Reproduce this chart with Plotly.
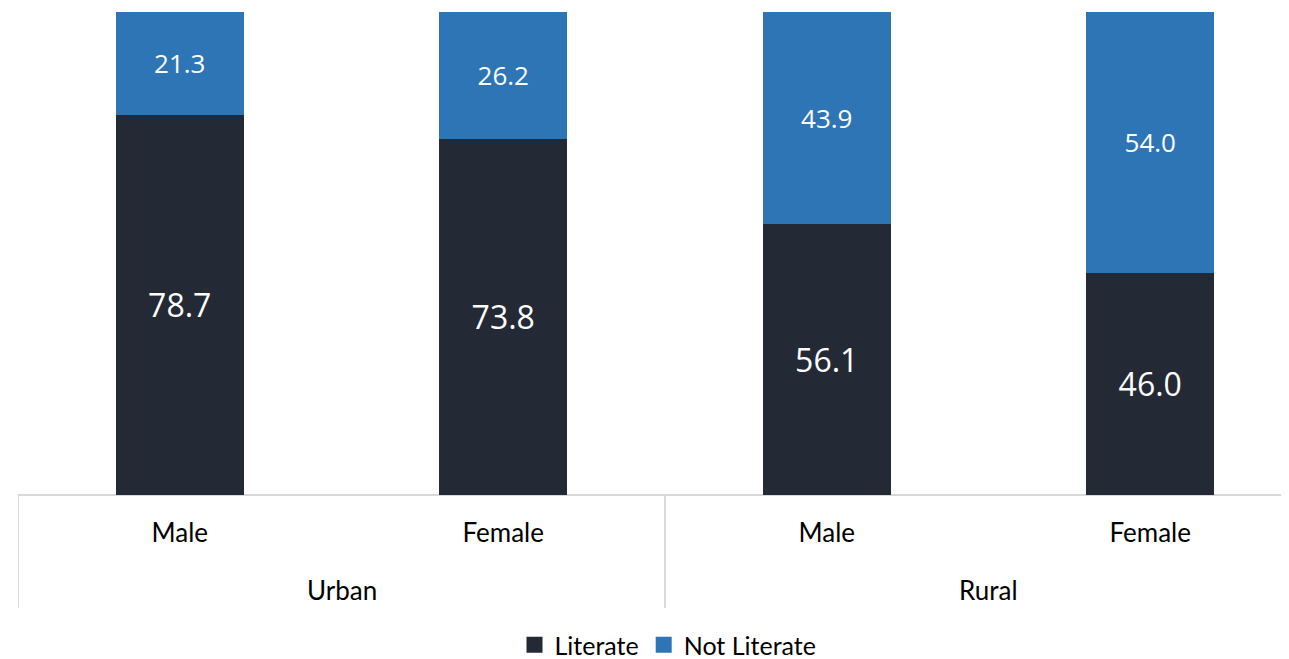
import plotly.graph_objects as go

genders = ["Male", "Female", "Male", "Female"]
areas = ["Urban", "Rural"]
literate = [78.7, 73.8, 56.1, 46.0]
not_literate = [21.3, 26.2, 43.9, 54.0]

DARK = "#232A35"
BLUE = "#2E75B6"
GRID = "#D9D9D9"
FONT = "Lato, 'Open Sans', sans-serif"
xs = list(range(len(genders)))

fig = go.Figure()
fig.add_trace(go.Bar(
    x=xs, y=literate, name="Literate", marker=dict(color=DARK, line=dict(width=0)),
    text=[f"{v:.1f}" for v in literate], textposition="inside", insidetextanchor="middle",
    textangle=0, textfont=dict(color="white", size=32, family="'Open Sans', sans-serif"),
    showlegend=False,
))
fig.add_trace(go.Bar(
    x=xs, y=not_literate, name="Not Literate", marker=dict(color=BLUE, line=dict(width=0)),
    text=[f"{v:.1f}" for v in not_literate], textposition="inside", insidetextanchor="middle",
    textangle=0, textfont=dict(color="white", size=26, family="'Open Sans', sans-serif"),
    showlegend=False,
))
# legend entries with larger square swatches
for name, col in [("Literate", DARK), ("Not Literate", BLUE)]:
    fig.add_trace(go.Scatter(x=[None], y=[None], mode="markers", name=name,
                             marker=dict(symbol="square", size=16, color=col)))

# body has an 8px margin in the page, so the figure is offset by 8px
OFF = 8
W, H = 1289 - OFF, 659 - OFF
PLOT_LEFT, PLOT_TOP, PLOT_BOTTOM = 18, 12, 495
L, R, T = PLOT_LEFT - OFF, 0, PLOT_TOP - OFF
B = H - (PLOT_BOTTOM - OFF)
plot_w = W - L - R
plot_h = PLOT_BOTTOM - PLOT_TOP
unit = 323.5
xmax = -0.5 + plot_w / unit

def py(y_px):
    return (PLOT_BOTTOM - y_px) / plot_h

fig.update_layout(
    width=W, height=H, barmode="stack", bargap=0.604,
    margin=dict(l=L, r=R, t=T, b=B, autoexpand=False),
    plot_bgcolor="white", paper_bgcolor="white",
    font=dict(family=FONT, color="#000000", size=26),
    showlegend=True,
    legend=dict(orientation="h", x=(668 - PLOT_LEFT) / plot_w, xanchor="center",
                y=py(645), yanchor="middle",
                font=dict(size=25, family=FONT), traceorder="normal",
                itemwidth=30, tracegroupgap=0),
    xaxis=dict(
        range=[-0.5, xmax], tickmode="array", tickvals=xs, ticktext=genders,
        showline=False, showgrid=False, zeroline=False,
        ticks="outside", ticklen=15, tickcolor="rgba(0,0,0,0)",
        tickfont=dict(size=26, family=FONT),
    ),
    yaxis=dict(range=[0, 100], visible=False),
)

# axis baseline across the full visible width
fig.add_shape(type="line", xref="paper", yref="paper", x0=0, x1=1.01, y0=0, y1=0,
              line=dict(color=GRID, width=2), layer="below")
# group dividers and outer labels
for xb in [-0.5, 1.5, 3.5]:
    fig.add_shape(type="line", xref="x", yref="paper", x0=xb, x1=xb,
                  y0=0, y1=py(608), line=dict(color=GRID, width=2))
for i, a in enumerate(areas):
    fig.add_annotation(x=2 * i + 0.5, xref="x", y=py(590), yref="paper",
                       text=a, showarrow=False, yanchor="middle",
                       font=dict(size=26, family=FONT, color="#000000"))

fig.write_html("out.html")
